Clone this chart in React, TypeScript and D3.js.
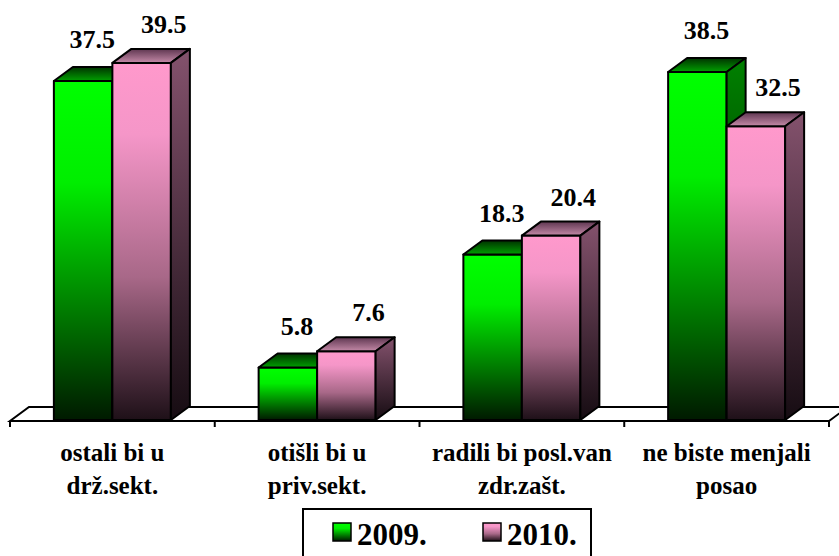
import * as d3 from 'd3';
import React from 'react';

const categories = [
  ['ostali bi u', 'drž.sekt.'],
  ['otišli bi u', 'priv.sekt.'],
  ['radili bi posl.van', 'zdr.zašt.'],
  ['ne biste menjali', 'posao'],
];
const seriesNames = ['2009.', '2010.'];
const values2009 = [37.5, 5.8, 18.3, 38.5];
const values2010 = [39.5, 7.6, 20.4, 32.5];

const FONT = "'Liberation Serif'";

function App() {
  const width = 839;
  const height = 556;
  const base = 420;
  const depth = { dx: 19, dy: -14 };

  const keys = categories.map((c) => c.join(' '));
  const x0 = d3.scaleBand().domain(keys).range([10, 829]);
  const groupW = 117;
  const x1 = d3.scaleBand().domain(seriesNames).range([0, groupW]);
  const y = d3.scaleLinear().domain([0, 10]).range([base, base - 90.4]);

  const series = [
    { name: seriesNames[0], values: values2009, front: 'gFront', top: 'gTop', side: 'gSide', lx: 9, ly: -33 },
    { name: seriesNames[1], values: values2010, front: 'pFront', top: 'pTop', side: 'pSide', lx: 22, ly: -30 },
  ];

  const { dx, dy } = depth;
  const floor = [
    [10, base + 1], [829, base + 1], [829 + dx, base + 1 + dy], [10 + dx, base + 1 + dy],
  ];
  const ticks = [...keys.map((k) => x0(k) as number), 829];
  const txt = { fontFamily: FONT, fontWeight: 'bold' as const };

  return (
    <svg width={width} height={height} style={{ display: 'block', position: 'absolute', left: 0, top: 0 }}>
      <defs>
        <linearGradient id="gFront" x1="0" y1="0" x2="0" y2="1">
          <stop offset="0" stopColor="#00ff00" />
          <stop offset="0.3" stopColor="#00ee00" />
          <stop offset="1" stopColor="#001a00" />
        </linearGradient>
        <linearGradient id="gTop" x1="0" y1="0" x2="0" y2="1">
          <stop offset="0" stopColor="#003300" />
          <stop offset="1" stopColor="#00a000" />
        </linearGradient>
        <linearGradient id="gSide" x1="0" y1="0" x2="0" y2="1">
          <stop offset="0" stopColor="#008000" />
          <stop offset="1" stopColor="#001000" />
        </linearGradient>
        <linearGradient id="pFront" x1="0" y1="0" x2="0" y2="1">
          <stop offset="0" stopColor="#ff99cc" />
          <stop offset="0.2" stopColor="#f596c8" />
          <stop offset="0.6" stopColor="#a86888" />
          <stop offset="1" stopColor="#1e1018" />
        </linearGradient>
        <linearGradient id="pTop" x1="0" y1="0" x2="0" y2="1">
          <stop offset="0" stopColor="#5e3650" />
          <stop offset="1" stopColor="#c58aa8" />
        </linearGradient>
        <linearGradient id="pSide" x1="0" y1="0" x2="0" y2="1">
          <stop offset="0" stopColor="#84526d" />
          <stop offset="1" stopColor="#160c12" />
        </linearGradient>
      </defs>
      <rect width={width} height={height} fill="#fff" />

      {/* floor */}
      <polygon points={floor.map((p) => p.join(',')).join(' ')} fill="#fff" stroke="#000" strokeWidth={2} />
      {ticks.map((t, i) => (
        <line key={i} x1={t} x2={t} y1={base + 1} y2={base + 7} stroke="#000" strokeWidth={2} />
      ))}

      {/* bars */}
      {keys.map((k, ci) => {
        const gx = (x0(k) as number) + (x0.bandwidth() - groupW) / 2;
        return (
          <g key={k}>
            {series.map((s) => {
              const v = s.values[ci];
              const x = gx + (x1(s.name) as number);
              const w = x1.bandwidth();
              const top = y(v);
              const topFace = [[x, top], [x + dx, top + dy], [x + w + dx, top + dy], [x + w, top]];
              const sideFace = [[x + w, top], [x + w + dx, top + dy], [x + w + dx, base + dy], [x + w, base]];
              return (
                <g key={s.name} stroke="#000" strokeWidth={2} strokeLinejoin="round">
                  <rect x={x} y={top} width={w} height={base - top} fill={`url(#${s.front})`} />
                  <polygon points={topFace.map((p) => p.join(',')).join(' ')} fill={`url(#${s.top})`} />
                  <polygon points={sideFace.map((p) => p.join(',')).join(' ')} fill={`url(#${s.side})`} />
                </g>
              );
            })}
          </g>
        );
      })}

      {/* value labels */}
      {keys.map((k, ci) => {
        const gx = (x0(k) as number) + (x0.bandwidth() - groupW) / 2;
        return series.map((s) => {
          const v = s.values[ci];
          const cx = gx + (x1(s.name) as number) + x1.bandwidth() / 2 + s.lx;
          return (
            <text key={k + s.name} x={cx} y={y(v) + s.ly} textAnchor="middle"
              style={{ ...txt, fontSize: 26 }} fill="#000">
              {v.toFixed(1)}
            </text>
          );
        });
      })}

      {/* category labels */}
      {categories.map((lines, ci) => {
        const cx = (x0(keys[ci]) as number) + x0.bandwidth() / 2;
        return (
          <text key={ci} textAnchor="middle" style={{ ...txt, fontSize: 25 }} fill="#000">
            {lines.map((l, li) => (
              <tspan key={li} x={cx} y={461 + li * 33}>{l}</tspan>
            ))}
          </text>
        );
      })}

      {/* legend */}
      <rect x={303} y={509} width={288} height={60} fill="#fff" stroke="#000" strokeWidth={2} />
      {series.map((s, i) => (
        <g key={s.name} transform={`translate(${333 + i * 150},523)`}>
          <rect x={0} y={0} width={18} height={18} fill={`url(#${s.front})`} stroke="#000" strokeWidth={1.5} />
          <text x={24} y={22} style={{ ...txt, fontSize: 31 }} fill="#000">{s.name}</text>
        </g>
      ))}
    </svg>
  );
}

export default App;
